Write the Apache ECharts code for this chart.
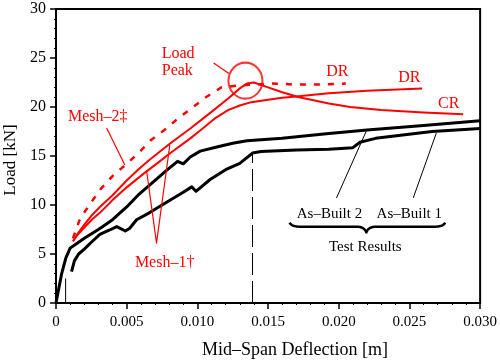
<!DOCTYPE html>
<html><head><meta charset="utf-8">
<script src="https://cdn.jsdelivr.net/npm/echarts@6/dist/echarts.min.js"></script>
<style>html,body{margin:0;padding:0;background:#fff}#c{width:500px;height:360px}</style>
</head><body><div id="c"></div>
<script>
// ---- data (deflection [m], load [kN]) ----
const xTickLabels = ['0', '0.005', '0.010', '0.015', '0.020', '0.025', '0.030'];
const yTickLabels = ['0', '5', '10', '15', '20', '25', '30'];

const asBuilt2 = [[0,0],[0.0002,1.5],[0.0004,3.0],[0.0007,4.6],[0.001,5.6],[0.0015,6.1],[0.002,6.6],[0.003,7.5],[0.004,8.5],[0.005,9.8],[0.0058,11.0],[0.0066,12.0],[0.0078,13.5],[0.0086,14.45],[0.009,14.2],[0.0095,14.9],[0.0102,15.5],[0.0113,15.9],[0.0125,16.3],[0.0135,16.55],[0.0145,16.65],[0.016,16.8],[0.0172,17.0],[0.0193,17.3],[0.022,17.65],[0.026,18.1],[0.030,18.6]];

const asBuilt1 = [[0.0011,3.2],[0.0013,4.3],[0.0016,5.0],[0.002,5.5],[0.0025,6.2],[0.0031,7.0],[0.0038,7.45],[0.0043,7.8],[0.0049,7.35],[0.0052,7.6],[0.0057,8.5],[0.0066,9.2],[0.0075,10.0],[0.009,11.3],[0.0096,11.85],[0.0099,11.4],[0.0109,12.6],[0.012,13.6],[0.013,14.25],[0.0139,15.3],[0.0145,15.45],[0.017,15.6],[0.0193,15.7],[0.021,15.85],[0.0215,16.4],[0.0226,16.8],[0.0266,17.5],[0.030,17.8]];

const mesh1CR = [[0.0012,6.3],[0.0015,7.0],[0.002,8.0],[0.0025,8.9],[0.0031,9.8],[0.004,11.0],[0.005,12.5],[0.0058,13.6],[0.0066,14.6],[0.008,16.2],[0.0095,17.8],[0.011,19.5],[0.0122,20.9],[0.013,21.9],[0.0135,22.4],[0.014,22.5],[0.015,22.0],[0.016,21.5],[0.0172,21.0],[0.0193,20.35],[0.0208,20.0],[0.023,19.7],[0.026,19.45],[0.0288,19.25]];

const mesh1DR = [[0.0012,6.3],[0.0015,6.9],[0.002,7.7],[0.0026,8.6],[0.0031,9.2],[0.004,10.5],[0.005,11.8],[0.0062,13.2],[0.0072,14.3],[0.008,15.2],[0.0095,16.8],[0.0102,17.6],[0.0113,18.9],[0.0122,19.7],[0.013,20.15],[0.0137,20.45],[0.015,20.75],[0.016,20.95],[0.0168,21.05],[0.0193,21.4],[0.022,21.65],[0.0259,21.9]];

const mesh2DR = [[0.0012,6.6],[0.0017,8.6],[0.0025,10.3],[0.0032,11.7],[0.004,12.95],[0.005,14.2],[0.0059,15.4],[0.0067,16.6],[0.0078,17.8],[0.0086,18.8],[0.0097,20.0],[0.0106,21.0],[0.0117,22.0],[0.0129,22.2],[0.0142,22.3],[0.0153,22.4],[0.0168,22.3],[0.0188,22.3],[0.0205,22.4]];

// annotation geometry (data coordinates)
const peakMarker = [[0.0134, 22.69]];
const dropLine = [[0.0139, 0], [0.0139, 15.3]];
const startLine = [[0.00068, 0], [0.00068, 2.5]];
const mesh1Leader = [[0.0064, 13.57], [0.00711, 6.11], [0.00805, 16.12]];
const mesh2Leader = [[0.00358, 17.85], [0.00487, 14.08]];
const peakLeader = [[0.01115, 24.5], [0.01223, 23.42]];
const ab2Leader = [[0.01984, 10.72], [0.02195, 17.55]];
const ab1Leader = [[0.02527, 10.72], [0.0269, 17.34]];
const braceAnchors = [[0.01652, 8.2], [0.02195, 7.2], [0.02753, 8.2]];

const labels = [
  {t: 'Load', at: [0.00748, 25.44], align: 'left', c: 'red'},
  {t: 'Peak', at: [0.00748, 23.65], align: 'left', c: 'red'},
  {t: 'Mesh\u20132\u2021', at: [0.00085, 19.02], align: 'left', c: 'red'},
  {t: 'Mesh\u20131\u2020', at: [0.00558, 4.15], align: 'left', c: 'red'},
  {t: 'DR', at: [0.0199, 23.55], align: 'center', c: 'red'},
  {t: 'DR', at: [0.02499, 22.94], align: 'center', c: 'red'},
  {t: 'CR', at: [0.02778, 20.3], align: 'center', c: 'red'},
  {t: 'As\u2013Built 2', at: [0.01934, 9.09], align: 'center', c: 'black'},
  {t: 'As\u2013Built 1', at: [0.02499, 9.09], align: 'center', c: 'black'},
  {t: 'Test Results', at: [0.02188, 5.73], align: 'center', c: 'black'}
];

const RED = '#f00';
const FONT = '"Liberation Serif", "DejaVu Serif", serif';

const chart = echarts.init(document.getElementById('c'), null, {renderer: 'canvas'});

function line(data, color, width, type) {
  return {type: 'line', data: data, symbol: 'none', silent: true, animation: false,
    lineStyle: {color: color, width: width, type: type || 'solid', cap: 'butt', join: 'round'}};
}

chart.setOption({
  animation: false,
  grid: {left: 56, right: 19, top: 9, bottom: 57, show: true, borderColor: '#000', borderWidth: 2},
  xAxis: {
    type: 'value', min: 0, max: 0.03, interval: 0.005,
    axisLine: {show: true, lineStyle: {color: '#000', width: 2}},
    axisTick: {show: true, length: 6, lineStyle: {color: '#000', width: 1.5}},
    minorTick: {show: true, splitNumber: 5, length: 2, lineStyle: {color: '#000'}},
    splitLine: {show: false},
    axisLabel: {margin: 12, color: '#000', fontFamily: FONT, fontSize: 15,
      formatter: v => xTickLabels[Math.round(v / 0.005)]}
  },
  yAxis: {
    type: 'value', min: 0, max: 30, interval: 5,
    axisLine: {show: true, lineStyle: {color: '#000', width: 2}},
    axisTick: {show: true, length: 6, lineStyle: {color: '#000', width: 1.5}},
    minorTick: {show: true, splitNumber: 5, length: 2, lineStyle: {color: '#000'}},
    splitLine: {show: false},
    axisLabel: {margin: 10, color: '#000', fontFamily: FONT, fontSize: 16,
      formatter: v => yTickLabels[Math.round(v / 5)]}
  },
  series: [
    line(asBuilt2, '#000', 3),
    line(asBuilt1, '#000', 3),
    line(mesh1CR, RED, 2),
    line(mesh1DR, RED, 2),
    line(mesh2DR, RED, 2.5, [6, 8]),
    line(dropLine, '#000', 1, [22, 6]),
    line(startLine, '#000', 1),
    line(mesh1Leader, RED, 1.2),
    line(mesh2Leader, RED, 1.2),
    line(peakLeader, RED, 1.2),
    line(ab2Leader, '#000', 1),
    line(ab1Leader, '#000', 1),
    {type: 'scatter', data: peakMarker, symbol: 'circle', symbolSize: [34, 36], silent: true,
      itemStyle: {color: 'rgba(0,0,0,0)', borderColor: RED, borderWidth: 2}}
  ]
});

// place texts and the brace from data coordinates
const px = p => chart.convertToPixel({gridIndex: 0}, p);
const g = [];
labels.forEach(l => {
  const p = px(l.at);
  g.push({type: 'text', x: p[0], y: p[1], silent: true,
    style: {text: l.t, fill: l.c, font: (l.c === 'red' ? '16px ' : '15px ') + FONT,
      textAlign: l.align, textVerticalAlign: 'middle'}});
});

// brace: sample quadratic curves into a polyline
const b0 = px(braceAnchors[0]), b1 = px(braceAnchors[1]), b2 = px(braceAnchors[2]);
const yb = b0[1] + 4;
function quad(p0, c, p1, n, out) {
  for (let i = 0; i <= n; i++) {
    const t = i / n, u = 1 - t;
    out.push([u*u*p0[0] + 2*u*t*c[0] + t*t*p1[0], u*u*p0[1] + 2*u*t*c[1] + t*t*p1[1]]);
  }
}
const bp = [];
quad(b0, [b0[0] + 2, yb], [b0[0] + 10, yb], 8, bp);
quad([b1[0] - 10, yb], [b1[0] - 2, yb], b1, 8, bp);
quad(b1, [b1[0] + 2, yb], [b1[0] + 10, yb], 8, bp);
quad([b2[0] - 10, yb], [b2[0] - 2, yb], b2, 8, bp);
g.push({type: 'polyline', silent: true, shape: {points: bp},
  style: {stroke: '#000', lineWidth: 2.5, fill: null, lineJoin: 'round'}});

// axis titles
g.push({type: 'text', x: 295, y: 350, silent: true,
  style: {text: 'Mid\u2013Span Deflection [m]', fill: '#000', font: '18px ' + FONT, textAlign: 'center', textVerticalAlign: 'middle'}});
g.push({type: 'text', x: 11, y: 160, rotation: Math.PI / 2, silent: true,
  style: {text: 'Load [kN]', fill: '#000', font: '17px ' + FONT, textAlign: 'center', textVerticalAlign: 'middle'}});
chart.setOption({graphic: g});
</script></body></html>
